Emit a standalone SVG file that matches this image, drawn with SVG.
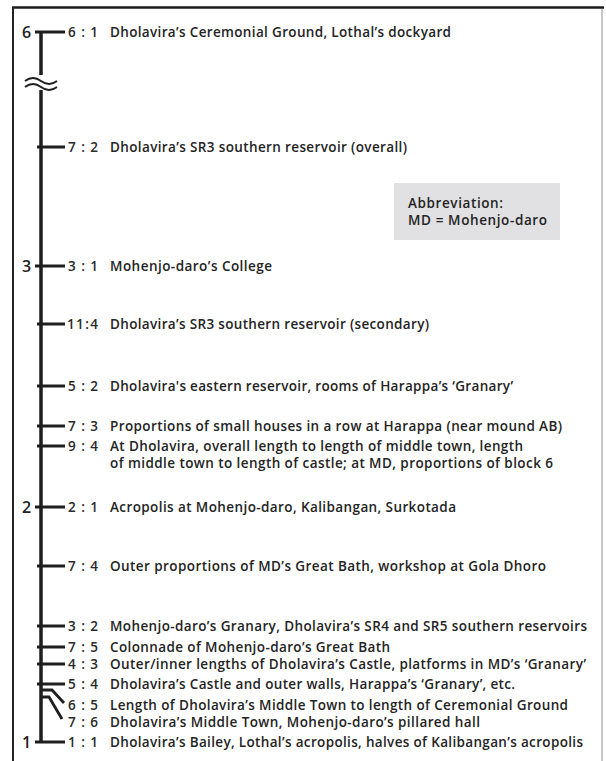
<svg xmlns="http://www.w3.org/2000/svg" width="606" height="761" viewBox="0 0 606 761">
<style>
.t{font-family:"Open Sans","Noto Sans","Liberation Sans",sans-serif;font-weight:600;font-size:13.5px;fill:#242424}
.r{font-family:"Open Sans","Noto Sans","Liberation Sans",sans-serif;font-weight:600;font-size:13.5px;fill:#2a2a2a}
.ax{font-family:"Open Sans","Noto Sans","Liberation Sans",sans-serif;font-weight:600;font-size:16px;fill:#222}
.tick{stroke:#1e1e1e;stroke-width:2.8;fill:none}
.axis{stroke:#1e1e1e;stroke-width:3.5;fill:none}
</style>
<rect x="0" y="0" width="606" height="761" fill="#fff"/>
<g id="frame">
<line x1="12" y1="7.5" x2="604" y2="7.5" stroke="#1a1a1a" stroke-width="2.5"/>
<line x1="13" y1="7" x2="13" y2="761" stroke="#222" stroke-width="2"/>
<line x1="602" y1="9" x2="602" y2="761" stroke="#b5b5b5" stroke-width="1.5"/>
</g>
<g id="axis">
<path class="axis" d="M41,31 V75 M41,90 V743"/>
<path d="M25,81 q8,-6 16,0 t16,0 M25,87 q8,-6 16,0 t16,0" stroke="#1e1e1e" stroke-width="2" fill="none"/>
<text class="ax" x="22" y="37.5">6</text>
<text class="ax" x="22" y="272">3</text>
<text class="ax" x="22" y="513">2</text>
<text class="ax" x="22" y="748">1</text>
</g>
<g id="connectors">
<path class="tick" d="M35,32 H65 M37,147 H65 M35,266 H65 M37,324 H65 M37,386 H65 M37,426 H65 M37,446 H65 M35,507 H65 M37,566 H65 M37,626 H65 M37,647 H65 M37,664 H65 M37,684 H65 M35,742 H65"/>
<path class="tick" d="M41,690 H52 L64,703 M41,697 H49 L62,719"/>
</g>
<g id="r6-1"><text class="r" x="68" y="37" textLength="30">6 : 1</text><text class="t" x="110" y="37" textLength="341">Dholavira’s Ceremonial Ground, Lothal’s dockyard</text></g>
<g id="r7-2"><text class="r" x="68" y="152" textLength="30">7 : 2</text><text class="t" x="110" y="152" textLength="297">Dholavira’s SR3 southern reservoir (overall)</text></g>
<g id="r3-1"><text class="r" x="68" y="271" textLength="30">3 : 1</text><text class="t" x="110" y="271" textLength="162">Mohenjo-daro’s College</text></g>
<g id="r11-4"><text class="r" x="67" y="329" textLength="31">11:4</text><text class="t" x="110" y="329" textLength="319">Dholavira’s SR3 southern reservoir (secondary)</text></g>
<g id="r5-2"><text class="r" x="68" y="391" textLength="30">5 : 2</text><text class="t" x="110" y="391" textLength="403">Dholavira's eastern reservoir, rooms of Harappa’s ‘Granary’</text></g>
<g id="r7-3"><text class="r" x="68" y="431" textLength="30">7 : 3</text><text class="t" x="110" y="431" textLength="452">Proportions of small houses in a row at Harappa (near mound AB)</text></g>
<g id="r9-4"><text class="r" x="68" y="451" textLength="30">9 : 4</text><text class="t" x="110" y="451" textLength="413">At Dholavira, overall length to length of middle town, length</text><text class="t" x="110" y="468" textLength="443">of middle town to length of castle; at MD, proportions of block 6</text></g>
<g id="r2-1"><text class="r" x="68" y="512" textLength="30">2 : 1</text><text class="t" x="110" y="512" textLength="346">Acropolis at Mohenjo-daro, Kalibangan, Surkotada</text></g>
<g id="r7-4"><text class="r" x="68" y="571" textLength="30">7 : 4</text><text class="t" x="110" y="571" textLength="436">Outer proportions of MD’s Great Bath, workshop at Gola Dhoro</text></g>
<g id="r3-2"><text class="r" x="68" y="631" textLength="30">3 : 2</text><text class="t" x="110" y="631" textLength="477">Mohenjo-daro’s Granary, Dholavira’s SR4 and SR5 southern reservoirs</text></g>
<g id="r7-5"><text class="r" x="68" y="652" textLength="30">7 : 5</text><text class="t" x="110" y="652" textLength="280">Colonnade of Mohenjo-daro’s Great Bath</text></g>
<g id="r4-3"><text class="r" x="68" y="669" textLength="30">4 : 3</text><text class="t" x="110" y="669" textLength="476">Outer/inner lengths of Dholavira’s Castle, platforms in MD’s ‘Granary’</text></g>
<g id="r5-4"><text class="r" x="68" y="689" textLength="30">5 : 4</text><text class="t" x="110" y="689" textLength="405">Dholavira’s Castle and outer walls, Harappa’s ‘Granary’, etc.</text></g>
<g id="r6-5"><text class="r" x="68" y="710" textLength="30">6 : 5</text><text class="t" x="110" y="710" textLength="458">Length of Dholavira’s Middle Town to length of Ceremonial Ground</text></g>
<g id="r7-6"><text class="r" x="68" y="727" textLength="30">7 : 6</text><text class="t" x="110" y="727" textLength="370">Dholavira’s Middle Town, Mohenjo-daro’s pillared hall</text></g>
<g id="r1-1"><text class="r" x="68" y="747" textLength="30">1 : 1</text><text class="t" x="110" y="747" textLength="473">Dholavira’s Bailey, Lothal’s acropolis, halves of Kalibangan’s acropolis</text></g>
<g id="abbreviation">
<rect x="394" y="183" width="166" height="57" fill="#e1e1e3"/>
<text class="t" x="408" y="208" textLength="95">Abbreviation:</text>
<text class="t" x="408" y="225" textLength="139">MD = Mohenjo-daro</text>
</g>
</svg>
